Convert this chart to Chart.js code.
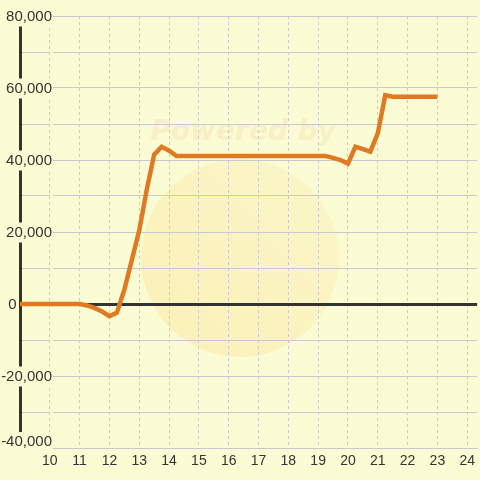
<!DOCTYPE html>
<html>
<head>
<meta charset="utf-8">
<script src="https://cdn.jsdelivr.net/npm/chart.js@4"></script>
<style>
  html, body { margin: 0; padding: 0; background: #fcfcd4; }
  #wrap { width: 480px; height: 480px; }
</style>
</head>
<body>
<div id="wrap"><canvas id="chart"></canvas></div>
<script>
// hour of day (15 min steps where the line bends)
const hours = [9, 11, 11.25, 11.5, 11.75, 12, 12.25, 12.5, 12.75, 13, 13.25, 13.5, 13.75, 14, 14.25,
               19.25, 19.5, 19.75, 20, 20.25, 20.5, 20.75, 21, 21.25, 21.5, 23];
const values = [0, 0, -400, -1100, -2100, -3400, -2400, 4000, 12200, 20500, 31700, 41500, 43700, 42600, 41100,
                41100, 40600, 40000, 39000, 43700, 43000, 42300, 47400, 58000, 57600, 57600];
const xLabels = [10, 11, 12, 13, 14, 15, 16, 17, 18, 19, 20, 21, 22, 23, 24];
const yLabels = [-40000, -20000, 0, 20000, 40000, 60000, 80000];

const BG = '#fcfcd4';
const GRID = '#c8c8d0';
const DARK = '#333333';
const LABEL_FONT = '"Liberation Sans", Arial';

// y labels end 32px right of the axis line
const measure = document.createElement('canvas').getContext('2d');
measure.font = '15px ' + LABEL_FONT;
const widestY = Math.max(...yLabels.map(v => measure.measureText(v.toLocaleString('en-US')).width));

const watermark = {
    id: 'watermark',
    beforeDraw(chart) {
        const ctx = chart.ctx;
        ctx.save();
        ctx.fillStyle = BG;
        ctx.fillRect(0, 0, chart.width, chart.height);
        const g = ctx.createLinearGradient(150, 340, 330, 170);
        g.addColorStop(0, '#fbf1b8');
        g.addColorStop(1, '#fbf5c8');
        ctx.fillStyle = g;
        ctx.beginPath();
        ctx.arc(240, 258, 99, 0, Math.PI * 2);
        ctx.fill();
        ctx.font = 'italic bold 28px "DejaVu Sans"';
        ctx.fillStyle = '#f8f0c2';
        ctx.textAlign = 'center';
        ctx.textBaseline = 'middle';
        ctx.fillText('Powered by', 243, 133);
        ctx.restore();

        // the zero label sits left of the axis, the bottom one is kept inside the plot
        chart.scales.y.getLabelItems(chart.chartArea).forEach(item => {
            if (item.options.moved) return;
            item.options.moved = true;
            if (item.label === '0') item.options.translation[0] -= 35.5;
            if (item.label === '-40,000') item.options.translation[1] -= 6.5;
        });
    }
};

new Chart(document.getElementById('chart'), {
    type: 'line',
    data: {
        datasets: [{
            data: hours.map((h, i) => ({ x: h, y: values[i] })),
            borderColor: '#e07a22',
            borderWidth: 4.5,
            pointRadius: 0,
            tension: 0
        }]
    },
    options: {
        responsive: true,
        maintainAspectRatio: false,
        animation: false,
        layout: { padding: { top: 16, left: 0, right: 0, bottom: 0 } },
        plugins: { legend: { display: false }, tooltip: { enabled: false } },
        scales: {
            x: {
                type: 'linear',
                min: 9,
                max: 24 + 1 / 3,
                afterFit: s => { s.height = 32; },
                grid: { color: '#cacad2', lineWidth: 1, drawTicks: false },
                border: { color: GRID, width: 1, dash: [3, 3] },
                ticks: {
                    stepSize: 1,
                    includeBounds: false,
                    autoSkip: false,
                    maxRotation: 0,
                    padding: 5,
                    color: DARK,
                    font: { family: LABEL_FONT, size: 14 },
                    callback: v => xLabels.includes(v) ? String(v) : ''
                }
            },
            y: {
                min: -40000,
                max: 80000,
                afterFit: s => { s.width = 20; },
                grid: {
                    drawTicks: false,
                    color: c => c.tick && c.tick.value === 0 ? DARK : GRID,
                    lineWidth: c => c.tick && c.tick.value === 0 ? 3 : 1
                },
                border: { color: DARK, width: 3 },
                ticks: {
                    stepSize: 10000,
                    mirror: true,
                    crossAlign: 'far',
                    padding: 32 - widestY,
                    labelOffset: 0.5,
                    color: DARK,
                    font: { family: LABEL_FONT, size: 15 },
                    showLabelBackdrop: true,
                    backdropColor: BG,
                    backdropPadding: { top: 1, bottom: 1, left: 2, right: 1 },
                    callback: v => yLabels.includes(v) ? v.toLocaleString('en-US') : ''
                }
            }
        }
    },
    plugins: [watermark]
});
</script>
</body>
</html>
